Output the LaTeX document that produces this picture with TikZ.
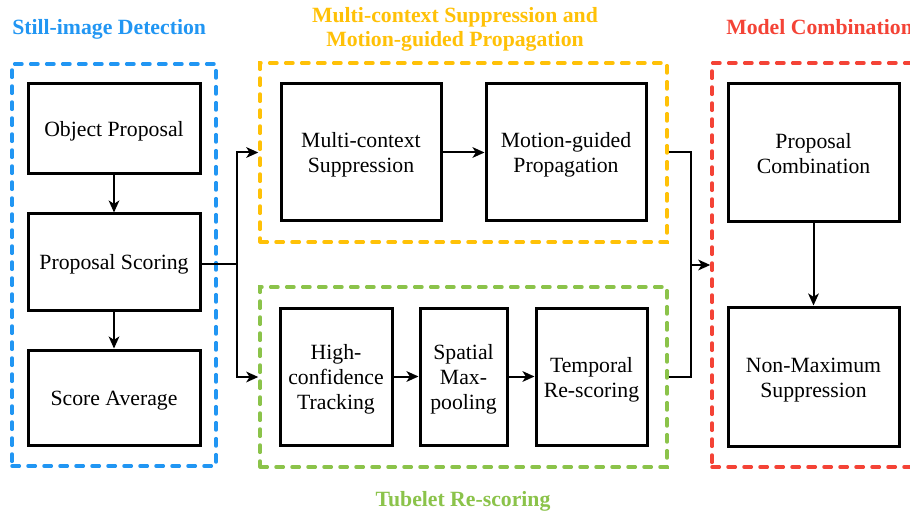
\documentclass[tikz,border=0pt]{standalone}
\usepackage{fontspec}
\setmainfont{Liberation Serif}
\usetikzlibrary{arrows.meta,fit}
\definecolor{cblue}{RGB}{33,150,243}
\definecolor{cyellow}{RGB}{255,193,7}
\definecolor{cgreen}{RGB}{139,195,74}
\definecolor{cred}{RGB}{244,67,54}
\newcommand{\bxtxt}[1]{\raisebox{-2.25pt}[\height][\depth]{\begin{tabular}{@{}c@{}}#1\end{tabular}}}
\tikzset{
  every node/.style={font=\fontsize{16.3}{18.75}\selectfont},
  procbox/.style={draw=black, line width=2.25pt, inner sep=0pt, fill=white},
  grpbox/.style={line width=2.6pt, line cap=round, dash pattern=on 5.5pt off 6.5pt, inner sep=0pt},
  ttl/.style={font=\fontsize{16.3}{18.75}\selectfont\bfseries, inner sep=0pt},
  arr/.style={line width=1.5pt, -{Stealth[length=9pt,width=8pt,inset=2.5pt]}},
  ln/.style={line width=1.5pt},
}
\begin{document}
\begin{tikzpicture}[x=0.75pt,y=-0.75pt]
\useasboundingbox (0,0) rectangle (910,513);
\clip (0,0) rectangle (910,513);
\fill[white] (0,0) rectangle (910,513);

% group frames
\coordinate (gb1) at (12,64);   \coordinate (gb2) at (216,466);
\coordinate (gy1) at (260,63);  \coordinate (gy2) at (667,242);
\coordinate (gg1) at (260,287); \coordinate (gg2) at (667,467);
\coordinate (gr1) at (712,63);  \coordinate (gr2) at (930,467);
\node[grpbox, draw=cblue, fit=(gb1)(gb2)] (gblue) {};
\node[grpbox, draw=cyellow, fit=(gy1)(gy2)] (gyellow) {};
\node[grpbox, draw=cgreen, fit=(gg1)(gg2)] (ggreen) {};
\node[grpbox, draw=cred, fit=(gr1)(gr2)] (gred) {};

% titles
\node[ttl, text=cblue, anchor=base west] (tblue) at (12,35) {Still-image Detection};
\node[ttl, text=cyellow, anchor=base] (tyella) at (455,23) {Multi-context Suppression and};
\node[ttl, text=cyellow, anchor=base] (tyellb) at (455,47) {Motion-guided Propagation};
\node[ttl, text=cred, anchor=base west] (tred) at (726,35) {Model Combination};
\node[ttl, text=cgreen, anchor=base] (tgreen) at (463,506) {Tubelet Re-scoring};

% still-image boxes
\node[procbox, minimum width=129pt, minimum height=67.5pt] (op) at (114,129) {\bxtxt{Object Proposal}};
\node[procbox, minimum width=129pt, minimum height=72pt] (ps) at (114,262) {\bxtxt{Proposal Scoring}};
\node[procbox, minimum width=129pt, minimum height=71.25pt] (sa) at (114,397.5) {\bxtxt{Score Average}};

% yellow boxes
\node[procbox, minimum width=120pt, minimum height=102.75pt] (mcs) at (361,152.5) {\bxtxt{Multi-context\\Suppression}};
\node[procbox, minimum width=120pt, minimum height=102.75pt] (mgp) at (566,152.5) {\bxtxt{Motion-guided\\Propagation}};

% green boxes
\node[procbox, minimum width=84pt, minimum height=102.75pt] (hct) at (336,376.5) {\bxtxt{High-\\confidence\\Tracking}};
\node[procbox, minimum width=65.25pt, minimum height=102.75pt] (smp) at (463.5,376.5) {\bxtxt{Spatial\\Max-\\pooling}};
\node[procbox, minimum width=83.25pt, minimum height=102.75pt] (trs) at (591.5,376.5) {\bxtxt{Temporal\\Re-scoring}};

% red boxes
\node[procbox, minimum width=128.25pt, minimum height=103.5pt] (pc) at (813.5,153) {\bxtxt{Proposal\\Combination}};
\node[procbox, minimum width=128.25pt, minimum height=104.25pt] (nms) at (813.5,376.5) {\bxtxt{Non-Maximum\\Suppression}};

% connectors
\draw[arr] (op.south) -- (ps.north);
\draw[arr] (ps.south) -- (sa.north);
\coordinate (j1) at (237,264);
\draw[ln] (ps.east |- j1) -- (j1);
\draw[arr] (j1) |- (gyellow.west);
\draw[arr] (j1) |- (ggreen.west);
\draw[arr] (mcs.east) -- (mgp.west);
\draw[arr] (hct.east) -- (smp.west);
\draw[arr] (smp.east) -- (trs.west);
\coordinate (j2) at (691,265);
\draw[ln] (gyellow.east) -| (j2);
\draw[ln] (ggreen.east) -| (j2);
\draw[arr] (j2) -- (gred.west |- j2);
\draw[arr] (pc.south) -- (nms.north);
\end{tikzpicture}
\end{document}
